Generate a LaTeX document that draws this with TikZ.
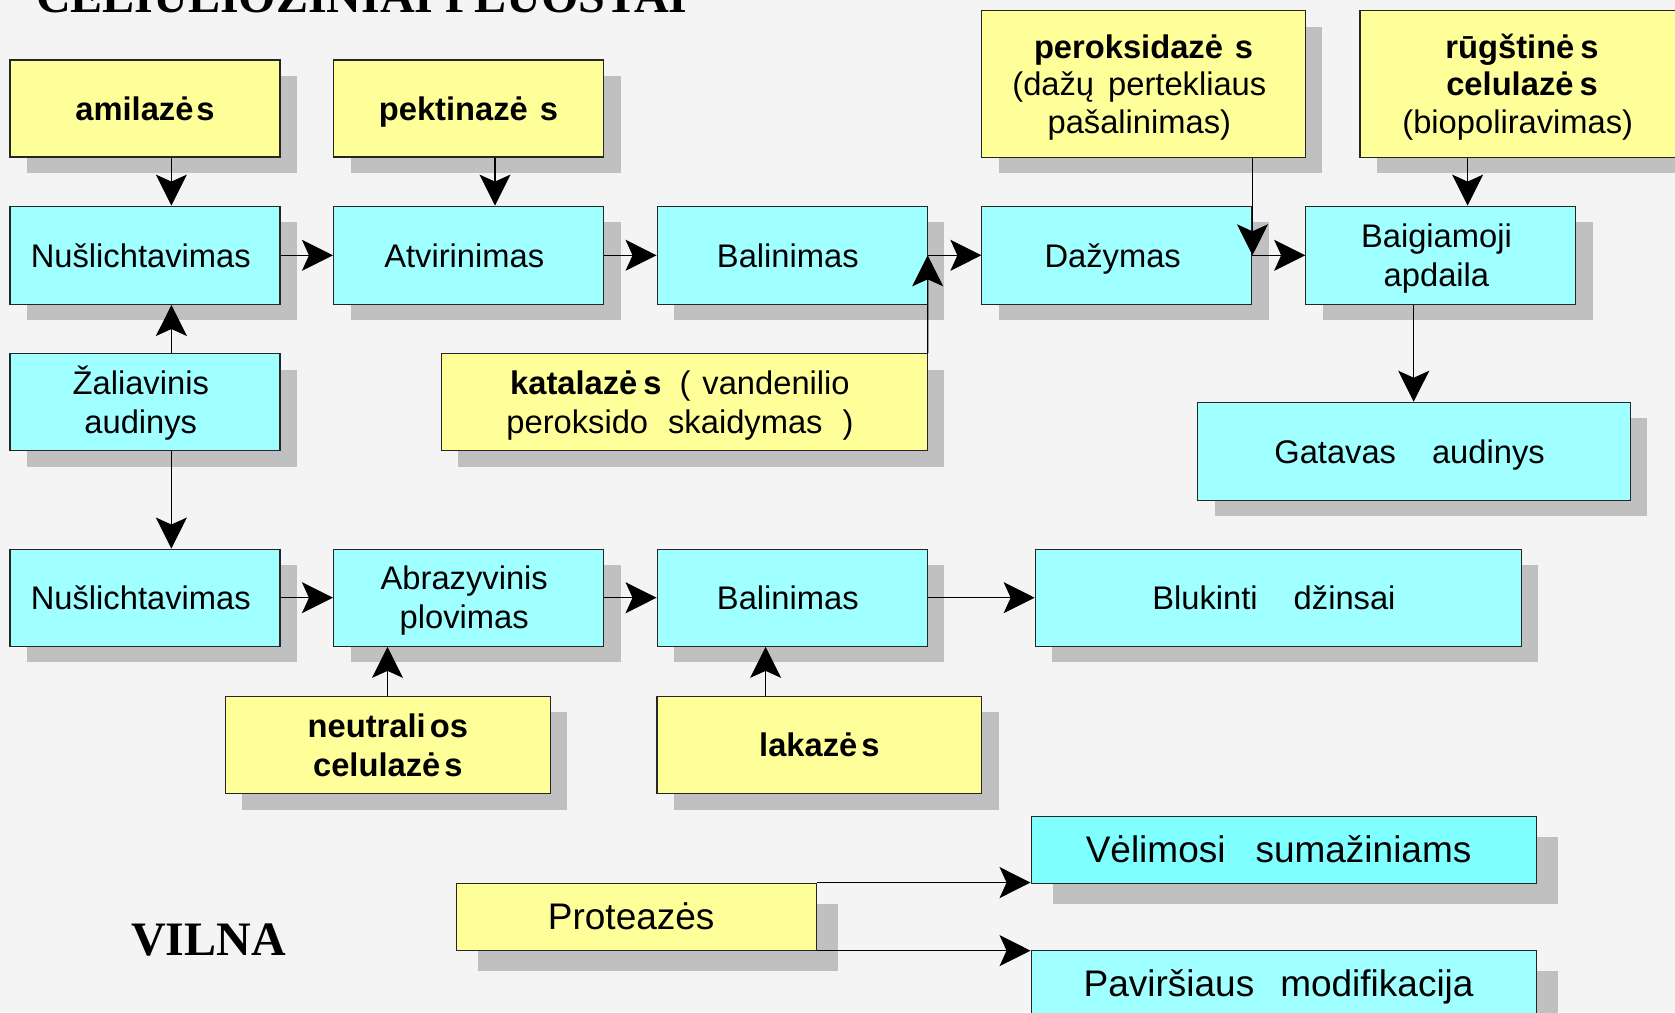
\documentclass[tikz,border=0pt]{standalone}
\usepackage{fontspec}
\setmainfont{Liberation Sans}
\newfontfamily\titlefont{Liberation Serif}
\usetikzlibrary{arrows.meta,shadows}
\definecolor{bgcol}{HTML}{F4F4F4}
\definecolor{shgray}{HTML}{C0C0C0}
\definecolor{yel}{HTML}{FFFF99}
\definecolor{cya}{HTML}{A0FFFF}
\definecolor{cyb}{HTML}{80FFFF}
% line helpers: fixed cap height, no depth, optional trailing space
\newcommand\LA[1]{\smash{#1}\rule{0pt}{23.4pt}}
\newcommand\LB[1]{\smash{#1}\rule{0pt}{23.4pt}\rule{8.5pt}{0pt}}
\newcommand\LC[1]{\smash{#1}\rule{0pt}{26.5pt}\rule{10pt}{0pt}}
\tikzset{
  box/.style={draw=black!85, line width=1.1pt, inner sep=0pt, align=center,
    font=\fontsize{32.7}{37.5}\selectfont,
    drop shadow={shadow xshift=17pt, shadow yshift=-16pt, fill=shgray, opacity=1}},
  twoline/.style={font=\fontsize{32.7}{39}\selectfont},
  bigbox/.style={draw=black!85, line width=1.1pt, inner sep=0pt, align=center,
    font=\fontsize{37}{42}\selectfont,
    drop shadow={shadow xshift=22pt, shadow yshift=-21pt, fill=shgray, opacity=1}},
  ybox/.style={box, fill=yel},
  cbox/.style={box, fill=cya},
  conn/.style={draw=black, line width=1.2pt, -{Stealth[length=31pt,width=31pt,inset=7pt]}},
  ttl/.style={inner sep=0pt, font=\titlefont\bfseries\fontsize{48}{52}\selectfont}
}
\begin{document}
\begin{tikzpicture}[x=1pt,y=-1pt]
\useasboundingbox (0,0) rectangle (1675,1012);
\clip (0,0) rectangle (1675,1012);
\fill[bgcol] (0,0) rectangle (1675,1012);

\node[ttl, anchor=base west] (title) at (36,12.7) {CELIULIOZINIAI PLUOSTAI};
\node[ttl, anchor=base west] (vilna) at (131,955.7) {VILNA};

% top enzyme boxes
\node[ybox, minimum width=270pt, minimum height=97pt] (amil) at (145,108.5) {\LA{\textbf{amilazė\hspace{3pt}s}}};
\node[ybox, minimum width=270pt, minimum height=97pt] (pekt) at (468.5,108.5) {\LA{\textbf{pektinazė\hspace{12pt}s}}};
\node[ybox, minimum width=323.7pt, minimum height=146.3pt] (perok) at (1143.6,83.9) {\LA{\textbf{peroksidazė\hspace{12pt}s}}\\\LB{(dažų\hspace{14pt}pertekliaus}\\\LB{pašalinimas)}};
\node[ybox, minimum width=324pt, minimum height=146.3pt] (rugst) at (1522,83.9) {\LA{\textbf{rūgštinė\hspace{6pt}s}}\\\LA{\textbf{celulazė\hspace{6pt}s}}\\\LB{(biopoliravimas)}};

% row 1
\node[cbox, minimum width=270pt, minimum height=98.3pt] (n1) at (145,255.3) {\LB{Nušlichtavimas}};
\node[cbox, minimum width=270pt, minimum height=98.3pt] (atv) at (468.5,255.3) {\LB{Atvirinimas}};
\node[cbox, minimum width=270pt, minimum height=98.3pt] (bal1) at (792.1,255.3) {\LB{Balinimas}};
\node[cbox, minimum width=270pt, minimum height=98.3pt] (daz) at (1116.9,255.3) {\LB{Dažymas}};
\node[cbox, twoline, minimum width=270pt, minimum height=98.3pt] (baig) at (1440.7,255.3) {\LB{Baigiamoji}\\\LB{apdaila}};

% middle
\node[cbox, twoline, minimum width=270pt, minimum height=97.2pt] (zal) at (145,402.2) {\LB{Žaliavinis}\\\LB{audinys}};
\node[ybox, twoline, minimum width=486pt, minimum height=97.2pt] (kat) at (684.2,402.2) {\LB{\textbf{katalazė\hspace{6pt}s}\hspace{18pt}(\hspace{12pt}vandenilio}\\\LB{peroksido\hspace{20pt}skaidymas\hspace{20pt})}};
\node[cbox, minimum width=432.5pt, minimum height=98pt] (gat) at (1413.8,451.3) {\LB{Gatavas\hspace{36pt}audinys}};

% row 2
\node[cbox, minimum width=270pt, minimum height=97.2pt] (n2) at (145,597.7) {\LB{Nušlichtavimas}};
\node[cbox, twoline, minimum width=270pt, minimum height=97.2pt] (abr) at (468.5,597.7) {\LB{Abrazyvinis}\\\LB{plovimas}};
\node[cbox, minimum width=270pt, minimum height=97.2pt] (bal2) at (792.1,597.7) {\LB{Balinimas}};
\node[cbox, minimum width=486pt, minimum height=97.2pt] (bluk) at (1278.2,597.7) {\LB{Blukinti\hspace{36pt}džinsai}};

\node[ybox, twoline, minimum width=324.8pt, minimum height=97.3pt] (neut) at (387.8,745.1) {\LA{\textbf{neutrali\hspace{4pt}os}}\\\LA{\textbf{celulazė\hspace{4pt}s}}};
\node[ybox, minimum width=324.8pt, minimum height=97.3pt] (lak) at (819.4,745.1) {\LA{\textbf{lakazė\hspace{4pt}s}}};

% wool
\node[bigbox, fill=cyb, minimum width=505pt, minimum height=67pt] (vel) at (1283.6,849.6) {\LC{Vėlimosi\hspace{30pt}sumažiniams}};
\node[bigbox, fill=yel, minimum width=360pt, minimum height=67pt] (prot) at (636.2,916.6) {\LC{Proteazės}};
\node[bigbox, fill=cya, minimum width=505pt, minimum height=67pt] (pav) at (1283.6,983.6) {\LC{Paviršiaus\hspace{26pt}modifikacija}};

% connectors
\coordinate (xa) at (171.4,0);
\coordinate (xp) at (495,0);
\coordinate (xr) at (1467.6,0);
\coordinate (xg) at (1413.7,0);
\coordinate (xn) at (387.5,0);
\coordinate (xl) at (765.6,0);

\draw[conn] (amil.south -| xa) -- (n1.north -| xa);
\draw[conn] (pekt.south -| xp) -- (atv.north -| xp);
\draw[conn] (n1.east) -- (atv.west);
\draw[conn] (atv.east) -- (bal1.west);
\draw[conn] (bal1.east) -- (daz.west);
\draw[conn] (daz.east) -- (baig.west);
\draw[conn] (perok.south -| daz.east) -- (daz.east);
\draw[conn] (rugst.south -| xr) -- (baig.north -| xr);
\draw[conn] (baig.south -| xg) -- (gat.north -| xg);
\draw[conn] (kat.north east) -- (bal1.east);
\draw[conn] (zal.north -| xa) -- (n1.south -| xa);
\draw[conn] (zal.south -| xa) -- (n2.north -| xa);
\draw[conn] (n2.east) -- (abr.west);
\draw[conn] (abr.east) -- (bal2.west);
\draw[conn] (bal2.east) -- (bluk.west);
\draw[conn] (neut.north -| xn) -- (abr.south -| xn);
\draw[conn] (lak.north -| xl) -- (bal2.south -| xl);
\draw[conn] (prot.north east) -- (prot.north east -| vel.south west);
\draw[conn] (prot.south east) -- (prot.south east -| pav.north west);
\end{tikzpicture}
\end{document}
